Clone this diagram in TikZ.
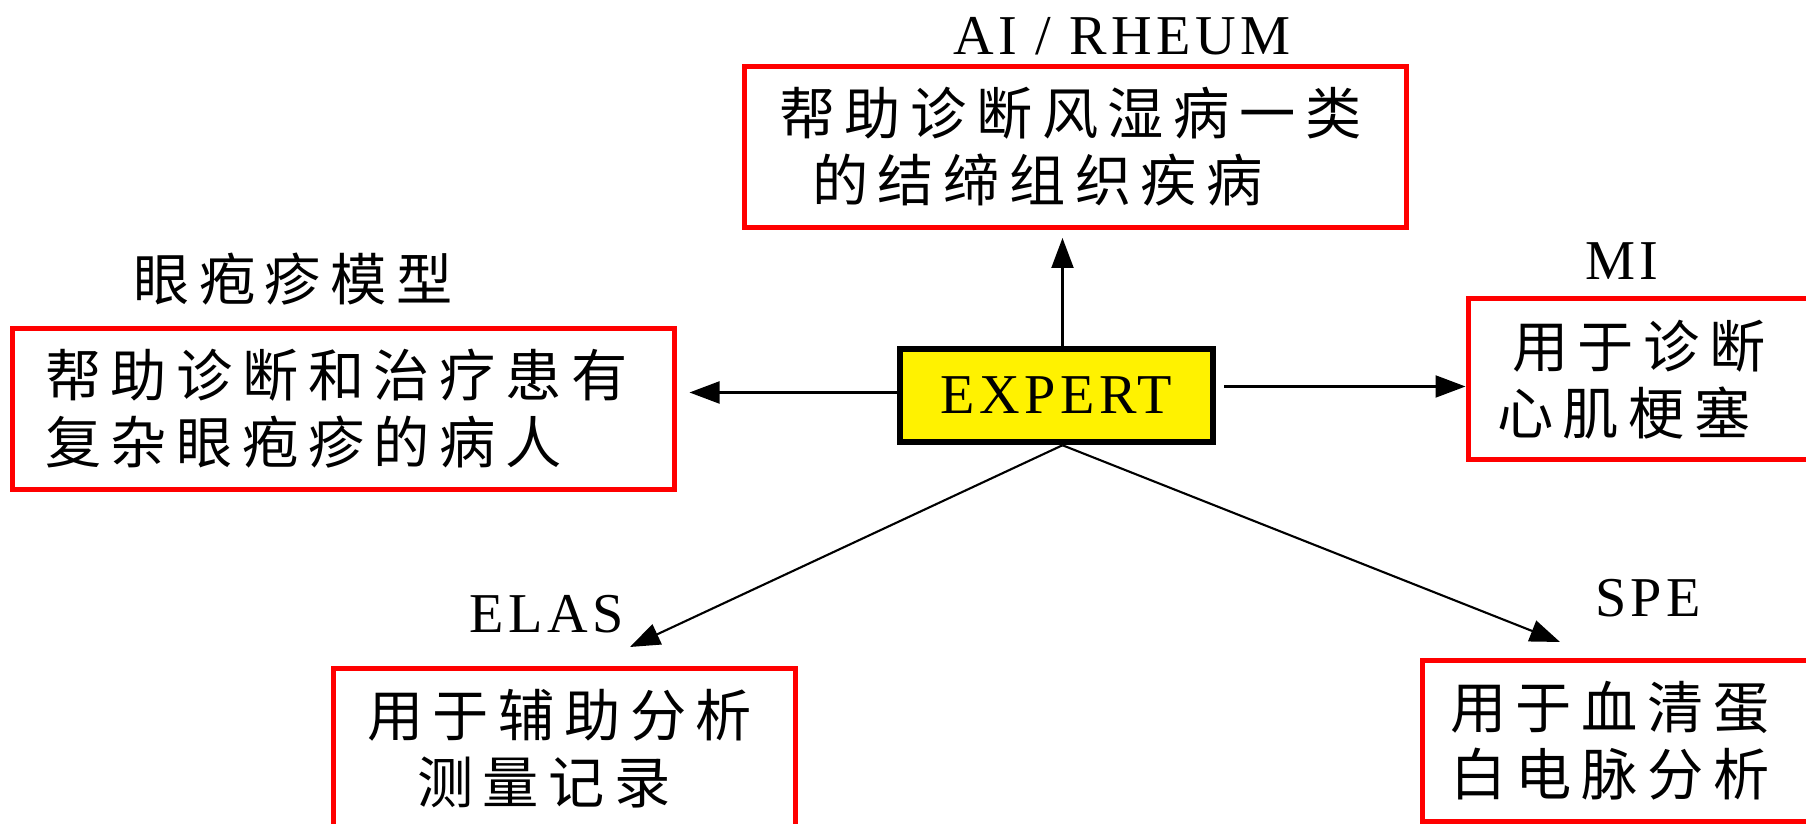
\documentclass[tikz,border=0pt]{standalone}
\usepackage{fontspec}
\setmainfont{Liberation Serif}[LetterSpace=8]
\newfontfamily\cjk{Noto Sans CJK SC}[LetterSpace=17]
\usetikzlibrary{arrows.meta}

\tikzset{
  infobox/.style={draw=red, line width=0.05cm, inner sep=0pt, minimum height=1.61cm, align=left, font=\fontsize{16}{19}\selectfont\cjk},
  tag/.style={font=\fontsize{16}{19}\selectfont},
  link/.style={semithick, -{Triangle[length=0.3cm,width=0.22cm]}},
}

\begin{document}
\begin{tikzpicture}
    \useasboundingbox (0,0) rectangle (18.06,-8.24);
    % centre
    \node[draw, line width=0.065cm, fill=yellow, minimum width=3.13cm, minimum height=0.93cm, tag] (expert) at (10.565,-3.955) {EXPERT};
    % systems
    \node[infobox, minimum width=6.62cm, text width=5.92cm] (rheum) at (10.75,-1.47) {帮助诊断风湿病一类\\\hspace*{0.33cm}的结缔组织疾病};
    \node[infobox, minimum width=6.61cm, text width=5.97cm] (herpes) at (3.435,-4.09) {帮助诊断和治疗患有\\复杂眼疱疹的病人};
    \node[infobox, minimum width=3.70cm, text width=3.12cm] (mi) at (16.53,-3.795) {\hspace*{0.15cm}用于诊断\\心肌梗塞};
    \node[infobox, minimum width=4.62cm, text width=3.94cm] (elas) at (5.64,-7.49) {用于辅助分析\\\hspace*{0.5cm}测量记录};
    \node[infobox, minimum width=4.08cm, text width=3.52cm] (spe) at (16.26,-7.41) {用于血清蛋\\白电脉分析};
    % names
    \node[tag] (rheumtag) at (11.22,-0.36) {AI / RHEUM};
    \node[tag, font=\fontsize{16}{19}\selectfont\cjk] (herpestag) at (2.93,-2.79) {眼疱疹模型};
    \node[tag] (mitag) at (16.22,-2.61) {MI};
    \node[tag] (elastag) at (5.47,-6.14) {ELAS};
    \node[tag] (spetag) at (16.48,-5.98) {SPE};
    % links
    \coordinate (elasin) at (6.30,-6.47);
    \coordinate (spein) at (15.60,-6.42);
    \draw[link, shorten >=0.08cm] ([xshift=0.06cm]expert.north) -- ([xshift=0.06cm]expert.north |- rheum.south);
    \draw[link, shorten >=0.13cm] ([yshift=0.03cm]expert.west) -- ([yshift=0.03cm]expert.west -| herpes.east);
    \draw[link, shorten <=0.08cm] ([yshift=0.09cm]expert.east) -- ([yshift=0.09cm]expert.east -| mi.west);
    \draw[link] ([xshift=0.06cm]expert.south) -- (elasin);
    \draw[link] ([xshift=0.06cm]expert.south) -- (spein);
\end{tikzpicture}
\end{document}
